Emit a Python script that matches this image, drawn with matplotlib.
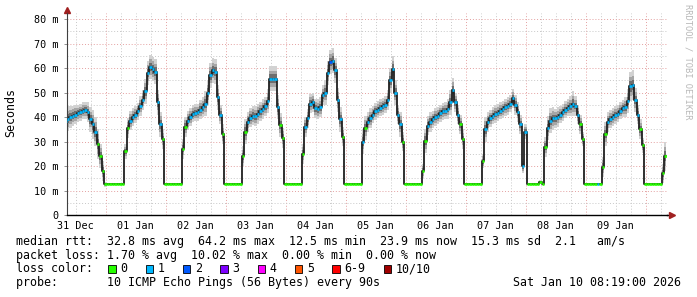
import numpy as np
import matplotlib.pyplot as plt
from matplotlib.patches import Rectangle

# hourly samples, hour 0 = 31 Dec 00:00, first sample at hour 8
start_hour = 8
median = [
    38.5, 39.3, 40, 40.5, 41, 41.5, 42, 42.5, 42.8, 42,
    39, 37, 34, 29, 24, 18,
    12.6, 12.5, 12.5, 12.5, 12.5, 12.5, 12.5, 12.6,
    26, 35.5, 38.5, 40, 41, 42.3, 44.5, 47, 50.5, 58, 60.5, 59.5, 58.5, 46, 37, 31,
    12.6, 12.5, 12.5, 12.5, 12.5, 12.5, 12.6,
    27, 36, 38.5, 40, 41.3, 41.8, 42, 43, 44, 45.5, 50, 57, 59, 58.5, 48, 41, 33,
    12.6, 12.5, 12.5, 12.5, 12.5, 12.5, 12.6,
    24, 34, 38, 39.8, 40.6, 40.3, 41.3, 42.3, 43.3, 44.3, 46.5, 55.7, 55.7, 55.7, 44, 36.7, 31.5,
    12.6, 12.5, 12.5, 12.5, 12.5, 12.5, 12.6,
    25, 36, 39.4, 45.5, 46, 43.5, 43.2, 44, 48.9, 50, 58, 62.5, 63, 59, 47, 39, 32,
    12.6, 12.5, 12.5, 12.5, 12.5, 12.5, 12.6,
    30, 35.5, 38, 39.5, 41, 42.3, 43, 43.8, 44.3, 45, 47, 55, 59.8, 50, 41, 37, 30,
    12.6, 12.5, 12.5, 12.5, 12.5, 12.5, 12.6,
    18, 30.3, 36.5, 38, 39, 40, 40.6, 41.5, 42.3, 42.6, 43.3, 46, 51, 46, 41, 37, 31,
    12.6, 12.5, 12.5, 12.5, 12.5, 12.5, 12.6,
    22, 35, 38, 39.5, 40.5, 41.2, 41.8, 42.5, 43.2, 43.9, 44.5, 45.5, 47.6, 45, 42, 37, 20, 34, 12.6,
    12.5, 12.5, 12.5, 12.5, 13.5, 12.6,
    27.8, 35.5, 38.5, 39.4, 39.4, 40, 41, 42, 43, 43.8, 44.4, 45.5, 44.5, 41, 37, 31,
    12.6, 12.5, 12.5, 12.5, 12.5, 12.5, 12.6,
    19.7, 33, 38, 39.2, 40, 40.8, 41.3, 42.5, 43.5, 44, 46.5, 52.5, 53, 47, 41, 35, 28.5,
    12.6, 12.5, 12.5, 12.5, 12.5, 12.5, 12.6,
    17, 24,
]
smoke = [
    5, 5, 4.5, 4, 4, 3.5, 3.5, 3.5, 3.5, 4,
    5, 6, 6, 6, 5, 4,
    1, 0.4, 0.4, 0.4, 0.4, 0.4, 0.4, 0.4,
    3, 4, 4, 3.5, 3.5, 3.5, 4, 4, 5, 5, 5, 5, 5, 5, 5, 4,
    0.4, 0.4, 0.4, 0.4, 0.4, 0.4, 0.4,
    4, 4, 4, 3.5, 3.5, 3.5, 3.5, 4, 4, 5, 5, 5, 5, 5, 5, 4, 4,
    0.4, 0.4, 0.4, 0.4, 0.4, 0.4, 0.4,
    4, 5, 4, 4, 4, 4, 4, 4, 4, 4, 5, 5, 5, 5, 5, 5, 4,
    0.4, 0.4, 0.4, 0.4, 0.4, 0.4, 0.4,
    4, 4, 4, 4, 4, 4, 4, 4, 4, 5, 5, 5, 5, 5, 5, 5, 4,
    0.4, 0.4, 0.4, 0.4, 0.4, 0.4, 0.4,
    5, 5, 4, 4, 3.5, 3.5, 3.5, 3.5, 3.5, 3.5, 4, 5, 5, 5, 4, 5, 4,
    0.4, 0.4, 0.4, 0.4, 0.4, 0.4, 0.4,
    3, 5, 4, 4, 3.5, 3.5, 3.5, 3.5, 3.5, 3.5, 4, 5, 5, 4, 4, 4, 4,
    0.4, 0.4, 0.4, 0.4, 0.4, 0.4, 0.4,
    3, 5, 4, 3.5, 3.5, 3.5, 3.5, 3.5, 3.5, 3.5, 3.5, 3.5, 4, 4, 4, 4, 3, 3, 0.4,
    0.4, 0.4, 0.4, 0.4, 0.8, 0.4,
    4, 5, 5, 4.5, 4, 4, 3.5, 3.5, 3.5, 3.5, 4, 5, 4, 4, 4, 3,
    0.4, 0.4, 0.4, 0.4, 0.4, 0.4, 0.4,
    4, 5, 4, 3.5, 3.5, 3.5, 3.5, 3.5, 3.5, 4, 5, 6, 6, 5, 4, 4, 3,
    0.4, 0.4, 0.4, 0.4, 0.4, 0.4, 0.4,
    4, 6,
]
loss = [
    1, 1, 1, 1, 1, 1, 1, 1, 1, 1,
    1, 1, 1, 0, 0, 0,
    0, 0, 0, 0, 0, 0, 0, 0,
    0, 0, 1, 1, 1, 1, 1, 1, 1, 1, 1, 1, 1, 1, 1, 0,
    0, 0, 0, 0, 0, 0, 0,
    0, 0, 1, 1, 1, 1, 1, 1, 1, 1, 1, 1, 1, 1, 1, 1, 0,
    0, 0, 0, 0, 0, 0, 0,
    0, 0, 1, 1, 1, 1, 1, 1, 1, 1, 1, 1, 1, 1, 1, 0, 0,
    0, 0, 0, 0, 0, 0, 0,
    0, 1, 1, 1, 1, 1, 1, 1, 1, 1, 1, 2, 1, 1, 1, 1, 0,
    0, 0, 0, 0, 0, 0, 0,
    1, 0, 1, 1, 1, 1, 1, 1, 1, 1, 1, 1, 1, 1, 1, 1, 0,
    0, 0, 0, 0, 0, 0, 0,
    0, 0, 1, 1, 1, 1, 1, 1, 1, 1, 1, 1, 1, 1, 1, 0, 0,
    0, 0, 0, 0, 0, 0, 0,
    0, 1, 1, 1, 1, 1, 1, 1, 1, 1, 1, 1, 1, 1, 1, 1, 1, 1, 0,
    0, 0, 0, 0, 0, 0,
    0, 1, 1, 1, 1, 1, 1, 1, 1, 1, 1, 1, 1, 1, 0, 0,
    0, 0, 0, 0, 0, 1, 0,
    0, 0, 1, 1, 1, 1, 1, 1, 1, 1, 1, 1, 1, 1, 1, 0, 0,
    0, 0, 0, 0, 0, 0, 0,
    0, 0,
]

day_labels = ['31 Dec', '01 Jan', '02 Jan', '03 Jan', '04 Jan',
              '05 Jan', '06 Jan', '07 Jan', '08 Jan', '09 Jan']
y_ticks = [0, 10, 20, 30, 40, 50, 60, 70, 80]
y_labels = ['0', '10 m', '20 m', '30 m', '40 m', '50 m', '60 m', '70 m', '80 m']
loss_names = ['0', '1', '2', '3', '4', '5', '6-9', '10/10']
loss_colors = ['#26ff00', '#00b8ff', '#0059ff', '#7e00ff',
               '#ff00ff', '#ff5500', '#ff0000', '#a00000']

rtt_line = 'median rtt:  32.8 ms avg  64.2 ms max  12.5 ms min  23.9 ms now  15.3 ms sd  2.1   am/s'
loss_line = 'packet loss: 1.70 % avg  10.02 % max  0.00 % min  0.00 % now'
probe_line = 'probe:       10 ICMP Echo Pings (56 Bytes) every 90s'
stamp = 'Sat Jan 10 08:19:00 2026'

W, H = 697, 297
mono = 'DejaVu Sans Mono'

def fx(px):
    return px / W

def fy(py):
    return 1 - py / H

t = np.arange(start_hour, start_hour + len(median))
med = np.array(median)
sm = np.array(smoke)
t0 = 8 + 19 / 60
t1 = t0 + 240
ymax = 82.5

fig = plt.figure(figsize=(W / 100, H / 100), dpi=100)
fig.patch.set_facecolor('white')
ax = fig.add_axes([fx(66.5), 82 / H, 600 / W, (215 - 12.9) / H])
ax.set_xlim(t0, t1)
ax.set_ylim(0, ymax)

# grid
dot = (0, (1, 2))
for h in np.arange(0, 252, 6):
    if t0 < h < t1:
        if h % 24 == 0:
            ax.axvline(h, color='#e4a0a0', lw=0.7, ls=dot, zorder=1)
        else:
            ax.axvline(h, color='#c8c8c8', lw=0.7, ls=dot, zorder=1)
for v in np.arange(5, 85, 5):
    if v % 10 == 0:
        ax.axhline(v, color='#e4a0a0', lw=0.7, ls=dot, zorder=1)
    else:
        ax.axhline(v, color='#c8c8c8', lw=0.7, ls=dot, zorder=1)

# smoke
for frac, col in [(1.0, '#d2d2d2'), (0.65, '#a6a6a6'), (0.35, '#6e6e6e')]:
    ax.fill_between(t, med - sm * frac, med + sm * frac, step='mid',
                    color=col, lw=0, zorder=2)

ax.plot(t, med, drawstyle='steps-mid', color='#202020', lw=1.3, zorder=3)
cols = [loss_colors[k] for k in loss]
ax.hlines(med, t - 0.5, t + 0.5, colors=cols, lw=1.9, zorder=4)

# axes
for s in ['top', 'right']:
    ax.spines[s].set_visible(False)
ax.spines['bottom'].set_color('black')
ax.spines['left'].set_color('#404040')
ax.spines['bottom'].set_linewidth(1)
ax.spines['left'].set_linewidth(0.8)
ax.plot([1, 1.009], [0, 0], transform=ax.transAxes, color='black', lw=1, clip_on=False)
ax.plot([0, 0], [1, 1.012], transform=ax.transAxes, color='#404040', lw=0.8, clip_on=False)
ax.plot(1.009, 0, marker='>', ms=4, color='#a02020', transform=ax.transAxes, clip_on=False)
ax.plot(0, 1.012, marker='^', ms=4, color='#a02020', transform=ax.transAxes, clip_on=False)

ax.set_xticks([12 + 24 * i for i in range(len(day_labels))])
ax.set_xticklabels(day_labels, family=mono, fontsize=7.3)
ax.tick_params(axis='x', length=0, pad=4)
ax.set_yticks(y_ticks)
ax.set_yticklabels(y_labels, family=mono, fontsize=7.3)
ax.tick_params(axis='y', length=2, width=0.6, color='#808080', pad=3.5)

fig.text(fx(11), fy(113), 'Seconds', rotation=90, ha='center', va='center',
         family=mono, fontsize=8.4)
fig.text(fx(688), fy(4), 'RRDTOOL / TOBI OETIKER', rotation=270, ha='center',
         va='top', family=mono, fontsize=6.3, color='#b8b8b8')

# legend block
fig.text(fx(15.7), fy(241), rtt_line, family=mono, fontsize=8.4, va='center')
fig.text(fx(15.7), fy(255), loss_line, family=mono, fontsize=8.4, va='center')
fig.text(fx(15.7), fy(269), 'loss color:', family=mono, fontsize=8.4, va='center')
cw = 7.05
bx = 108.3
for name, col in zip(loss_names, loss_colors):
    fig.add_artist(Rectangle((fx(bx), fy(272.5)), 7.5 / W, 7.5 / H,
                             transform=fig.transFigure, facecolor=col,
                             edgecolor='black', lw=0.6))
    fig.text(fx(bx + 12), fy(269), name, family=mono, fontsize=8.4, va='center')
    bx += 37.3 + cw * (len(name) - 1)
fig.text(fx(15.7), fy(282.7), probe_line, family=mono, fontsize=8.4, va='center')
fig.text(fx(681), fy(282.7), stamp, family=mono, fontsize=8.4, va='center', ha='right')

fig.savefig('out.png', dpi=100, facecolor='white')
